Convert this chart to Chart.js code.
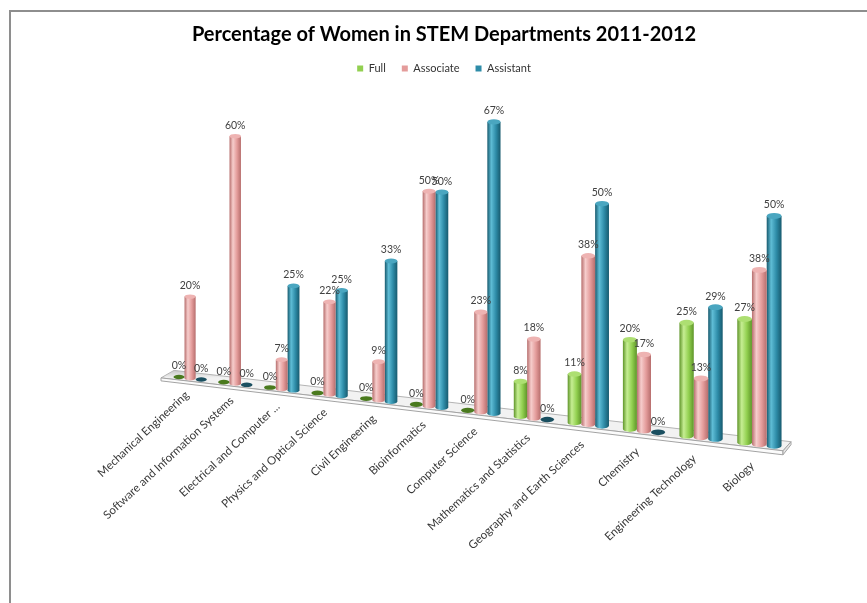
<!DOCTYPE html>
<html>
<head>
<meta charset="utf-8">
<title>Women in STEM Departments</title>
<script src="https://cdn.jsdelivr.net/npm/chart.js@4.4.1/dist/chart.umd.min.js"></script>
<style>
  html, body { margin: 0; padding: 0; background: #fff; }
  #wrap { position: relative; width: 867px; height: 603px; }
  #frame {
    position: absolute; left: 9px; top: 10px; right: 0; bottom: 0;
    border-top: 2px solid #8e8e8e; border-left: 2px solid #8e8e8e;
    pointer-events: none;
  }
</style>
</head>
<body>
<div id="wrap">
  <canvas id="stemChart" width="867" height="603"></canvas>
  <div id="frame"></div>
</div>
<script>
const departments = [
    'Mechanical Engineering',
    'Software and Information Systems',
    'Electrical and Computer ...',
    'Physics and Optical Science',
    'Civil Engineering',
    'Bioinformatics',
    'Computer Science',
    'Mathematics and Statistics',
    'Geography and Earth Sciences',
    'Chemistry',
    'Engineering Technology',
    'Biology'
];
const fullProf      = [0, 0, 0, 0, 0, 0, 0, 8, 11, 20, 25, 27];
const associateProf = [20, 60, 7, 22, 9, 50, 23, 18, 38, 17, 13, 38];
const assistantProf = [0, 0, 25, 25, 33, 50, 67, 0, 50, 0, 29, 50];
const seriesNames   = ['Full', 'Associate', 'Assistant'];

// shading for the cylinders, one per series
const shades = [
    { body: '#92d050', light: '#c6ee93', dark: '#5f9529', cap: '#addf72', zero: '#4a7a1e' },
    { body: '#e49c9b', light: '#f6cdcc', dark: '#b76e6d', cap: '#eeb3b2', zero: '#a05756' },
    { body: '#2e8ca8', light: '#5fbdd6', dark: '#175a6e', cap: '#4aa6c0', zero: '#1a4f60' }
];

// floor / perspective settings
const view = {
    a: 0.847,           // category spacing grows towards the right
    x0: 168, w: 621,    // screen span of the floor
    floorX: 188, floorY: 378, slope: 0.1156,
    unit0: 4.08, unitGrow: 0.00088   // px per percent, and how it grows with x
};

function project(chart, x) {
    const area = chart.chartArea;
    const t = (x - area.left) / (area.right - area.left);
    const sx = view.x0 + view.w * (view.a * t + (1 - view.a) * t * t);
    return {
        sx: sx,
        stretch: (view.a + 2 * (1 - view.a) * t) * view.w / (area.right - area.left),
        base: view.floorY + view.slope * (sx - view.floorX),
        unit: view.unit0 + view.unitGrow * (sx - view.floorX)
    };
}

function baseAt(sx) {
    return view.floorY + view.slope * (sx - view.floorX);
}

function drawCylinder(ctx, cx, top, bottom, w, c) {
    const rx = w / 2, ry = Math.max(1.5, w * 0.2);
    const g = ctx.createLinearGradient(cx - rx, 0, cx + rx, 0);
    g.addColorStop(0, c.dark);
    g.addColorStop(0.3, c.light);
    g.addColorStop(0.65, c.body);
    g.addColorStop(1, c.dark);
    ctx.fillStyle = g;
    ctx.beginPath();
    ctx.moveTo(cx - rx, top);
    ctx.lineTo(cx - rx, bottom);
    ctx.ellipse(cx, bottom, rx, ry, 0, Math.PI, 0, true);
    ctx.lineTo(cx + rx, top);
    ctx.closePath();
    ctx.fill();
    ctx.fillStyle = c.cap;
    ctx.beginPath();
    ctx.ellipse(cx, top, rx, ry, 0, 0, Math.PI * 2);
    ctx.fill();
}

function drawFloor(chart) {
    const ctx = chart.ctx;
    const l = project(chart, chart.chartArea.left);
    const r = project(chart, chart.chartArea.right);
    const fl = l.sx - 7, fr = r.sx - 6, bl = l.sx + 6, br = r.sx + 2;

    ctx.save();
    // top of the slab
    const g = ctx.createLinearGradient(0, baseAt(bl) - 6, 0, baseAt(fl) + 3);
    g.addColorStop(0, '#c8c8c8');
    g.addColorStop(1, '#f2f2f2');
    ctx.fillStyle = g;
    ctx.strokeStyle = '#b3b3b3';
    ctx.lineWidth = 1;
    ctx.beginPath();
    ctx.moveTo(fl, baseAt(fl) + 3);
    ctx.lineTo(fr, baseAt(fr) + 4);
    ctx.lineTo(br, baseAt(br) - 6);
    ctx.lineTo(bl, baseAt(bl) - 6);
    ctx.closePath();
    ctx.fill();
    ctx.stroke();
    // front edge
    ctx.fillStyle = '#fbfbfb';
    ctx.strokeStyle = '#a3a3a3';
    ctx.beginPath();
    ctx.moveTo(fl, baseAt(fl) + 3);
    ctx.lineTo(fr, baseAt(fr) + 4);
    ctx.lineTo(fr, baseAt(fr) + 8);
    ctx.lineTo(fl, baseAt(fl) + 6);
    ctx.closePath();
    ctx.fill();
    ctx.stroke();
    // right end
    ctx.fillStyle = '#e6e6e6';
    ctx.beginPath();
    ctx.moveTo(fr, baseAt(fr) + 4);
    ctx.lineTo(br, baseAt(br) - 6);
    ctx.lineTo(br, baseAt(br) - 3);
    ctx.lineTo(fr, baseAt(fr) + 8);
    ctx.closePath();
    ctx.fill();
    ctx.stroke();
    ctx.restore();
}

const cylinders = {
    id: 'cylinders',
    beforeDatasetsDraw(chart) {
        drawFloor(chart);
    },
    beforeDatasetDraw(chart, args) {
        const ctx = chart.ctx;
        const yScale = chart.scales.y;
        const c = shades[args.index];
        ctx.save();
        args.meta.data.forEach((bar) => {
            const p = project(chart, bar.x);
            const w = bar.width * p.stretch;
            const value = yScale.getValueForPixel(bar.y) - yScale.getValueForPixel(bar.base);
            if (value <= 0.01) {
                ctx.fillStyle = c.zero;
                ctx.beginPath();
                ctx.ellipse(p.sx, p.base, w / 2, Math.max(1.5, w * 0.2), 0, 0, Math.PI * 2);
                ctx.fill();
            } else {
                drawCylinder(ctx, p.sx, p.base - value * p.unit, p.base, w, c);
            }
        });
        ctx.restore();
        return false;
    },
    afterDatasetsDraw(chart) {
        const ctx = chart.ctx;
        const yScale = chart.scales.y;
        ctx.save();
        ctx.font = '10.5px Lato';
        ctx.fillStyle = '#404040';
        ctx.textAlign = 'center';
        ctx.textBaseline = 'middle';
        chart.data.datasets.forEach((ds, i) => {
            chart.getDatasetMeta(i).data.forEach((bar, j) => {
                const p = project(chart, bar.x);
                const value = yScale.getValueForPixel(bar.y) - yScale.getValueForPixel(bar.base);
                ctx.fillText(ds.data[j] + '%', p.sx, p.base - value * p.unit - 11);
            });
        });
        ctx.restore();
    },
    afterDraw(chart) {
        // category names, slanted under the floor
        const ctx = chart.ctx;
        const xScale = chart.scales.x;
        ctx.save();
        ctx.font = '11.5px Lato';
        ctx.fillStyle = '#383838';
        ctx.textAlign = 'right';
        ctx.textBaseline = 'middle';
        chart.data.labels.forEach((name, i) => {
            const p = project(chart, xScale.getPixelForValue(i));
            const t = i / (chart.data.labels.length - 1);
            ctx.save();
            ctx.translate(p.sx - 3 - 4 * t, p.base + 15 + 5 * t);
            ctx.rotate(-43 * Math.PI / 180);
            ctx.fillText(name, 0, 0);
            ctx.restore();
        });
        ctx.restore();
    }
};

Chart.defaults.font.family = 'Lato';

let stemCanvas = document.getElementById('stemChart');
let stemChart = new Chart(stemCanvas, {
    type: 'bar',
    data: {
        labels: departments,
        datasets: [{
            label: seriesNames[0],
            data: fullProf,
            backgroundColor: shades[0].body,
            clip: false
        }, {
            label: seriesNames[1],
            data: associateProf,
            backgroundColor: shades[1].body,
            clip: false
        }, {
            label: seriesNames[2],
            data: assistantProf,
            backgroundColor: shades[2].body,
            clip: false
        }]
    },
    options: {
        responsive: false,
        animation: false,
        events: [],
        categoryPercentage: 0.75,
        barPercentage: 1.0,
        layout: {
            padding: { left: 30, right: 9, top: 0, bottom: 228 }
        },
        scales: {
            x: { display: false },
            y: { display: false, min: 0, max: 70 }
        },
        plugins: {
            title: {
                display: true,
                text: 'Percentage of Women in STEM Departments 2011-2012',
                color: '#000000',
                font: { size: 20, weight: 'bold' },
                padding: { top: 23, bottom: 0 }
            },
            legend: {
                labels: {
                    boxWidth: 6,
                    boxHeight: 6,
                    padding: 16,
                    color: '#333333',
                    font: { size: 11 }
                }
            },
            tooltip: { enabled: false }
        }
    },
    plugins: [cylinders]
});
</script>
</body>
</html>
